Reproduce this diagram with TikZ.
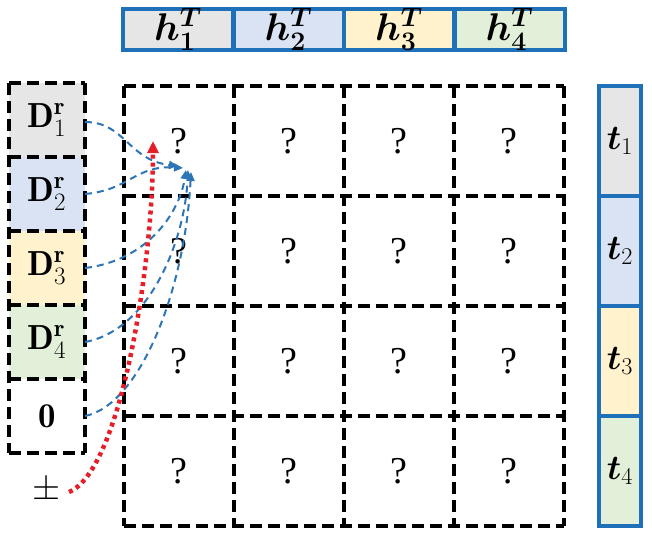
\documentclass[tikz,border=0pt]{standalone}
\usepackage{graphicx}
\usepackage{amsmath,bm}
\usepackage{fontspec}
\newfontfamily\qfont{Liberation Serif}
\usetikzlibrary{arrows.meta}
\definecolor{cgray}{RGB}{231,230,230}
\definecolor{cblue}{RGB}{218,227,243}
\definecolor{cyel}{RGB}{255,242,204}
\definecolor{cgreen}{RGB}{226,240,217}
\definecolor{bord}{RGB}{30,112,185}
\definecolor{arr}{RGB}{46,117,182}
\definecolor{redd}{RGB}{230,30,40}
\newcommand\mbig[2][1.45]{\scalebox{#1}{$#2$}}
\begin{document}
\begin{tikzpicture}[x=1pt,y=-1pt,
  txt/.style={font=\fontsize{24}{26}\selectfont},
  qtxt/.style={font=\qfont\fontsize{38}{40}\selectfont},
  dline/.style={draw=black,line width=3.5pt,dash pattern=on 12pt off 6pt},
  cellb/.style={inner sep=0pt,outer sep=0pt,txt},
  lcell/.style={cellb,minimum width=76pt,minimum height=74pt},
  gcell/.style={inner sep=0pt,outer sep=0pt,minimum width=110pt,minimum height=110pt,qtxt},
  hcell/.style={draw=bord,line width=4pt,minimum width=110pt,minimum height=41pt,inner sep=0pt,outer sep=0pt,txt},
  tcell/.style={draw=bord,line width=4pt,minimum width=42pt,minimum height=110pt,inner sep=0pt,outer sep=0pt,txt},
  barr/.style={draw=arr,line width=2pt,dash pattern=on 7pt off 5pt,-{Triangle[length=9pt,width=8pt]}},
  rarr/.style={draw=redd,line width=4.5pt,dash pattern=on 4pt off 4pt,-{Triangle[length=12pt,width=11pt]}}
]
\useasboundingbox (0,0) rectangle (652,538);
% top bar
\node[hcell,fill=cgray]  (h1) at (178,29.5) {\mbig[1.55]{\bm{h}_{\bm 1}^{\bm T}}};
\node[hcell,fill=cblue]  (h2) at (288.5,29.5) {\mbig[1.55]{\bm{h}_{\bm 2}^{\bm T}}};
\node[hcell,fill=cyel]   (h3) at (399,29.5) {\mbig[1.55]{\bm{h}_{\bm 3}^{\bm T}}};
\node[hcell,fill=cgreen] (h4) at (509.5,29.5) {\mbig[1.55]{\bm{h}_{\bm 4}^{\bm T}}};
% right bar
\node[tcell,fill=cgray]  (t1) at (620,141) {\mbig[1.4]{\bm{t}_1}};
\node[tcell,fill=cblue]  (t2) at (620,251) {\mbig[1.4]{\bm{t}_2}};
\node[tcell,fill=cyel]   (t3) at (620,361) {\mbig[1.4]{\bm{t}_3}};
\node[tcell,fill=cgreen] (t4) at (620,471) {\mbig[1.4]{\bm{t}_4}};
% grid
\foreach \c/\x in {1/179,2/289,3/399,4/509}{
  \foreach \r/\y in {1/141,2/251,3/361,4/471}{
    \node[gcell] (g\r\c) at (\x,\y) {?};
  }
}
\foreach \r in {1,2,3,4}{
  \draw[dline] (g\r1.north west) -- (g\r4.north east);
}
\draw[dline] (g41.south west) -- (g44.south east);
\foreach \c in {1,2,3,4}{
  \draw[dline] (g1\c.north west) -- (g4\c.south west);
}
\draw[dline] (g14.north east) -- (g44.south east);
% left column
\node[lcell,fill=cgray]  (d1) at (47,120) {\mbig{\mathbf{D}_1^{\mathbf r}}};
\node[lcell,fill=cblue]  (d2) at (47,194) {\mbig{\mathbf{D}_2^{\mathbf r}}};
\node[lcell,fill=cyel]   (d3) at (47,268) {\mbig{\mathbf{D}_3^{\mathbf r}}};
\node[lcell,fill=cgreen] (d4) at (47,342) {\mbig{\mathbf{D}_4^{\mathbf r}}};
\node[lcell,fill=white]  (d0) at (47,416) {\mbig{\mathbf{0}}};
\foreach \n in {d1,d2,d3,d4,d0}{
  \draw[dline] (\n.north west) -- (\n.north east);
}
\draw[dline] (d0.south west) -- (d0.south east);
\draw[dline] (d1.north west) -- (d0.south west);
\draw[dline] (d1.north east) -- (d0.south east);
\node[txt,inner sep=0pt] (pm) at (47,490) {\mbig{\pm}};
% targets
\coordinate (e1) at (178,166);
\coordinate (e2) at (183,168);
\coordinate (e3) at (186,170);
\coordinate (e4) at (188,170);
\coordinate (e0) at (191,172);
\coordinate (er) at (153,141);
% arrows
\draw[barr] ([yshift=-2pt]d1.east) .. controls (125,122) and (128,160) .. (e1);
\draw[barr] (d2.east) .. controls (130,190) and (135,165) .. (e2);
\draw[barr] (d3.east) .. controls (150,260) and (180,210) .. (e3);
\draw[barr] (d4.east) .. controls (150,330) and (185,240) .. (e4);
\draw[barr] (d0.east) .. controls (140,405) and (185,290) .. (e0);
\draw[rarr] ([xshift=22pt,yshift=-2pt]pm.center) .. controls (122,470) and (153,260) .. (er);
\end{tikzpicture}
\end{document}
